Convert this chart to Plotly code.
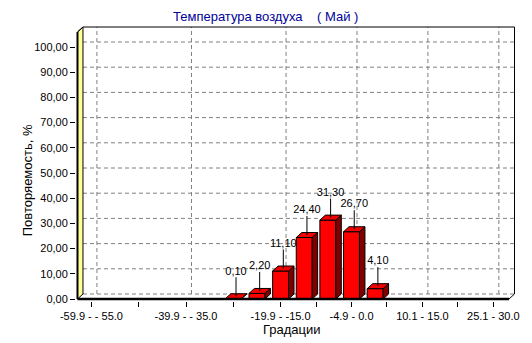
import plotly.graph_objects as go

# ---------------- data ----------------
title_text = "Температура воздуха    ( Май )"
y_title = "Повторяемость, %"
x_title = "Градации"
categories = ["-59.9 - - 55.0", "-54.9 - -50.0", "-49.9 - -45.0", "-44.9 - -40.0",
              "-39.9 - - 35.0", "-34.9 - -30.0", "-29.9 - -25.0", "-24.9 - -20.0",
              "-19.9 - -15.0", "-14.9 - -10.0", "-9.9 - -5.0", "-4.9 - 0.0",
              "0.1 - 5.0", "5.1 - 10.0", "10.1 - 15.0", "15.1 - 20.0",
              "20.1 - 25.0", "25.1 - 30.0"]
frequency = [0, 0, 0, 0, 0, 0, 0.10, 2.20, 11.10, 24.40, 31.30, 26.70, 4.10, 0, 0, 0, 0, 0]
shown_tick_labels = ["-59.9 - - 55.0", "-39.9 - - 35.0", "-19.9 - -15.0",
                     "-4.9 - 0.0", "10.1 - 15.0", "25.1 - 30.0"]
y_ticks = [0, 10, 20, 30, 40, 50, 60, 70, 80, 90, 100]

# ---------------- geometry (pixel layout) ----------------
W, H = 532, 343
L, R, T, B = 76, 519, 25, 301
px_cat = 23.75       # pixels per category
cat0_px = 91.5       # pixel of category 0 (front)
px_unit = 2.52       # pixels per % unit
zero_px = 299        # pixel of y=0 (front)

def xv(px):
    return (px - cat0_px) / px_cat

def yv(py):
    return (zero_px - py) / px_unit

xrange = [xv(L), xv(R)]
yrange = [yv(B), yv(T)]
xl, xr = xv(77.5), xv(516.5)
ytop = yv(27)
dx = 5.5 / px_cat
dy = 5.0 / px_unit
bw = 16 / px_cat

def fmt(v):
    return f"{v:.2f}".replace(".", ",")

idx = list(range(len(categories)))
tick_idx = [categories.index(t) for t in shown_tick_labels]
minor_idx = [(a + b) / 2 for a, b in zip(tick_idx[:-1], tick_idx[1:])]

fig = go.Figure()

# front faces of bars
bar_x = [i for i, v in zip(idx, frequency) if v > 0]
bar_y = [v for v in frequency if v > 0]
fig.add_trace(go.Bar(x=bar_x, y=bar_y, width=bw, marker=dict(color="#FF0000", line=dict(color="black", width=1)),
                     hoverinfo="skip", showlegend=False))

# top faces and side faces
top_x, top_y, side_x, side_y = [], [], [], []
for i, v in zip(bar_x, bar_y):
    a, b = i - bw / 2, i + bw / 2
    top_x += [a, a + dx, b + dx, b, a, None]
    top_y += [v, v + dy, v + dy, v, v, None]
    side_x += [b, b, b + dx, b + dx, b, None]
    side_y += [0, v, v + dy, dy, 0, None]
fig.add_trace(go.Scatter(x=side_x, y=side_y, mode="lines", fill="toself", fillcolor="#800000",
                         line=dict(color="black", width=1), hoverinfo="skip", showlegend=False))
fig.add_trace(go.Scatter(x=top_x, y=top_y, mode="lines", fill="toself", fillcolor="#F00000",
                         line=dict(color="black", width=1), hoverinfo="skip", showlegend=False))

# leader lines and value labels
lead = 19 / px_unit
lx, ly, tx, ty, tt = [], [], [], [], []
for i, v in zip(bar_x, bar_y):
    cx = i + dx / 2
    lx += [cx, cx, None]
    ly += [v + dy / 2, v + dy / 2 + lead, None]
    tx.append(cx)
    ty.append(v + dy / 2 + lead)
    tt.append(fmt(v))
fig.add_trace(go.Scatter(x=lx, y=ly, mode="lines", line=dict(color="black", width=1),
                         hoverinfo="skip", showlegend=False))
fig.add_trace(go.Scatter(x=tx, y=ty, mode="text", text=tt, textposition="top center",
                         textfont=dict(family="Liberation Sans, Arial", size=11, color="black"),
                         cliponaxis=False, hoverinfo="skip", showlegend=False))

shapes = []
grid = dict(color="#808080", width=1, dash="4px,3px")
# back wall horizontal gridlines
for v in y_ticks[1:]:
    shapes.append(dict(type="line", xref="x", yref="y", x0=xl + dx, x1=xr, y0=v + dy, y1=v + dy,
                       line=grid, layer="below"))
# back wall vertical gridlines
for k in tick_idx:
    shapes.append(dict(type="line", xref="x", yref="y", x0=k + dx, x1=k + dx, y0=dy, y1=ytop,
                       line=grid, layer="below"))
# floor back edge
shapes.append(dict(type="line", xref="x", yref="y", x0=xl + dx, x1=xr, y0=dy, y1=dy,
                   line=grid, layer="below"))
# left wall (yellow)
shapes.append(dict(type="path", xref="x", yref="y",
                   path=f"M {xl},0 L {xl},{ytop - dy} L {xl + dx},{ytop} L {xl + dx},{dy} Z",
                   fillcolor="#FFFF99", line=dict(color="black", width=1), layer="below"))
# wall front edge
shapes.append(dict(type="line", xref="x", yref="y", x0=xl, x1=xl, y0=0, y1=ytop - dy,
                   line=dict(color="black", width=2)))
# frame top and right
shapes.append(dict(type="path", xref="x", yref="y",
                   path=f"M {xl},{ytop - dy} L {xl + dx},{ytop} L {xr},{ytop} L {xr},{dy} L {xr - dx},0",
                   line=dict(color="black", width=1)))
# floor front edge
shapes.append(dict(type="line", xref="x", yref="y", x0=xl, x1=xr - dx, y0=0, y1=0,
                   line=dict(color="black", width=2.5)))

def pxp(px):
    return (px - L) / (R - L)

def pyp(py):
    return (B - py) / (B - T)

font_main = "Liberation Sans, Arial"
annotations = [
    dict(text=title_text, x=pxp(266), y=pyp(16), xref="paper", yref="paper", showarrow=False,
         font=dict(family=font_main, size=13, color="#000099"), xanchor="center", yanchor="middle"),
    dict(text=y_title, x=pxp(27), y=pyp(180), xref="paper", yref="paper", showarrow=False, textangle=-90,
         font=dict(family=font_main, size=13, color="black"), xanchor="center", yanchor="middle"),
    dict(text=x_title, x=pxp(293), y=pyp(329), xref="paper", yref="paper", showarrow=False,
         font=dict(family=font_main, size=13, color="black"), xanchor="center", yanchor="middle"),
]

fig.update_layout(
    width=W, height=H,
    margin=dict(l=L, r=W - R, t=T, b=H - B, pad=0),
    paper_bgcolor="white", plot_bgcolor="white",
    showlegend=False,
    shapes=shapes, annotations=annotations,
    font=dict(family=font_main, size=11, color="black"),
    xaxis=dict(range=xrange, showgrid=False, zeroline=False, showline=False,
               tickmode="array", tickvals=tick_idx, ticktext=shown_tick_labels,
               ticks="outside", ticklen=5, tickcolor="black",
               tickfont=dict(family=font_main, size=11, color="black"),
               minor=dict(tickmode="array", tickvals=minor_idx, ticks="outside", ticklen=5, tickcolor="black")),
    yaxis=dict(range=yrange, showgrid=False, zeroline=False, showline=False,
               tickmode="array", tickvals=y_ticks, ticktext=[fmt(v) for v in y_ticks],
               ticks="outside", ticklen=5, tickcolor="black",
               tickfont=dict(family=font_main, size=11, color="black")),
)

fig.write_html("out.html")
